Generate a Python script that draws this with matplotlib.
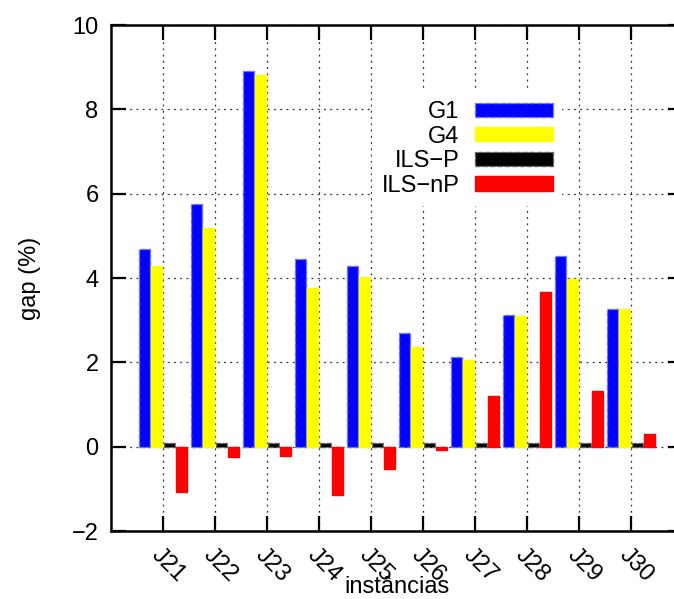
import numpy as np
import matplotlib
matplotlib.use('Agg')
import matplotlib.pyplot as plt

########################################################################################################################
# Data.
########################################################################################################################

instances = ['J21', 'J22', 'J23', 'J24', 'J25', 'J26', 'J27', 'J28', 'J29', 'J30']
g1 = [4.70, 5.76, 8.91, 4.45, 4.29, 2.70, 2.13, 3.12, 4.53, 3.27]
g4 = [4.29, 5.18, 8.82, 3.76, 4.02, 2.36, 2.06, 3.10, 3.98, 3.26]
ils_p = [0.08, 0.08, 0.08, 0.08, 0.08, 0.08, 0.08, 0.08, 0.08, 0.08]
ils_np = [-1.07, -0.24, -0.22, -1.14, -0.52, -0.08, 1.21, 3.68, 1.33, 0.31]

series = [('G1', g1, '#0000ff', '#7070ff', '--'),
          ('G4', g4, '#ffff00', '#ffff00', '-'),
          ('ILS\u2212P', ils_p, '#000000', '#606060', '--'),
          ('ILS\u2212nP', ils_np, '#ff0000', '#ff0000', '-')]

########################################################################################################################
# Style.
########################################################################################################################

FS = 17
plt.rcParams['font.family'] = ['Liberation Sans', 'DejaVu Sans']
plt.rcParams['font.size'] = FS

fig = plt.figure(figsize=(6.74, 5.99), dpi=100)
ax = fig.add_axes([0.1647, 0.1135, 0.8487, 0.8447])

x = np.arange(1, len(instances) + 1)
step = 0.236
width = 0.215
offsets = [-1.5 * step, -0.5 * step, 0.5 * step, 1.5 * step]

for (label, vals, face, edge, ls), off in zip(series, offsets):
    ax.bar(x + off, vals, width, color=face, edgecolor=edge, linestyle=ls, linewidth=1.0,
           label=label, zorder=3)

ax.set_xlim(0, 11)
ax.set_ylim(-2, 10)
ax.set_yticks(np.arange(-2, 11, 2))
ax.set_xticks(x)
ax.set_xticklabels(instances, rotation=-45, ha='left', va='top', rotation_mode='anchor')

ax.grid(True, linestyle=(0, (1.5, 3.5)), color='#333333', linewidth=0.9, zorder=0)
ax.set_axisbelow(True)
ax.tick_params(direction='in', length=11, width=1.6, top=True, right=True, labelsize=FS)
ax.tick_params(axis='y', pad=9)
ax.tick_params(axis='x', pad=9)
for s in ax.spines.values():
    s.set_linewidth(1.8)

ax.set_ylabel('gap (%)', fontsize=FS, labelpad=22)
ax.set_xlabel('inst\u00e2ncias', fontsize=FS, labelpad=-7)

leg = ax.legend(loc='upper right', bbox_to_anchor=(0.834, 0.847), bbox_transform=fig.transFigure,
                markerfirst=False, handlelength=3.3, handleheight=0.55, handletextpad=0.65,
                labelspacing=0.11, borderpad=0.4, borderaxespad=0, frameon=True, fancybox=False,
                fontsize=FS)
leg.get_frame().set_facecolor('white')
leg.get_frame().set_edgecolor('none')
leg.get_frame().set_alpha(1.0)

plt.savefig('out.png', dpi=100)
